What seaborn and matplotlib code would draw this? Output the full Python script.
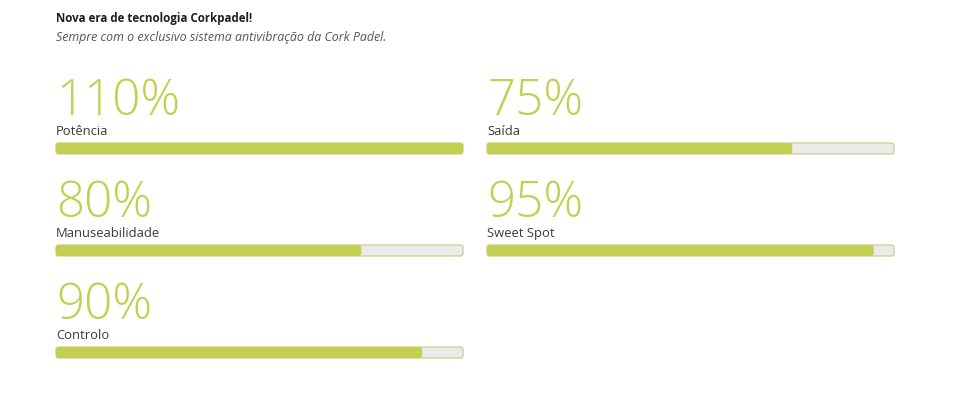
import matplotlib
matplotlib.use("Agg")
import matplotlib.pyplot as plt
import seaborn as sns
import pandas as pd
from matplotlib.patches import FancyBboxPatch

# --- data ---
TITLE = "Nova era de tecnologia Corkpadel!"
SUBTITLE = "Sempre com o exclusivo sistema antivibração da Cork Padel."
labels = ["Potência", "Saída", "Manuseabilidade", "Sweet Spot", "Controlo"]
shown_pct = [110, 75, 80, 95, 90]          # number printed above each bar
fill_pct = [100, 75, 75, 95, 90]           # how far the bar is actually filled
# -----------------------------------

W, H = 974, 396
GREEN = "#c2cf52"
TRACK = "#ebebeb"

sns.set_theme(style="white")
plt.rcParams["font.family"] = ["Open Sans", "DejaVu Sans"]

fig = plt.figure(figsize=(W / 100, H / 100), dpi=100)
fig.patch.set_facecolor("white")

def fx(px):
    return px / W

def fy(py):
    return 1 - py / H

fig.text(fx(56), fy(22), TITLE, fontsize=8.3, fontweight="bold", color="#1e1e1e")
fig.text(fx(56), fy(41), SUBTITLE, fontsize=8.9, fontstyle="italic", color="#555555")

col_x = [56, 487]
bar_w, bar_h = 407, 11
first_bar_top, row_step = 143, 102

for i, (lab, shown, fill) in enumerate(zip(labels, shown_pct, fill_pct)):
    row, col = divmod(i, 2)
    left = col_x[col]
    top = first_bar_top + row * row_step
    ax = fig.add_axes([fx(left), fy(top + bar_h), fx(bar_w), bar_h / H])

    # background track
    track = FancyBboxPatch((0, 0), 1, 1, transform=ax.transAxes,
                           boxstyle="round,pad=0,rounding_size=0.006",
                           mutation_aspect=bar_w / bar_h,
                           facecolor=TRACK, edgecolor="#c9d08a", linewidth=0.9,
                           clip_on=False, zorder=0)
    ax.add_patch(track)

    df = pd.DataFrame({"label": [lab], "pct": [min(fill, 100)]})
    sns.barplot(data=df, x="pct", y="label", orient="h", color=GREEN,
                width=1, ax=ax, saturation=1)
    ax.set_xlim(0, 100)
    ax.set_ylim(0.5, -0.5)

    # round the corners of the filled bar
    for p in list(ax.patches):
        if p is track:
            continue
        x0, y0 = p.get_x(), p.get_y()
        w, h = p.get_width(), p.get_height()
        p.remove()
        ax.add_patch(FancyBboxPatch((x0, y0), w, h,
                                    boxstyle="round,pad=0,rounding_size=0.7",
                                    mutation_aspect=(1 / bar_h) / (100 / bar_w),
                                    facecolor=GREEN, edgecolor="none",
                                    clip_on=False, zorder=1))

    ax.set_axis_off()

    fig.text(fx(left), fy(top - 8), lab, fontsize=9.4, color="#3a3a3a")
    fig.text(fx(left), fy(top - 28), f"{shown}%", fontsize=35.5,
             fontweight=300, color=GREEN)

fig.savefig("out.png", dpi=100, facecolor="white")
